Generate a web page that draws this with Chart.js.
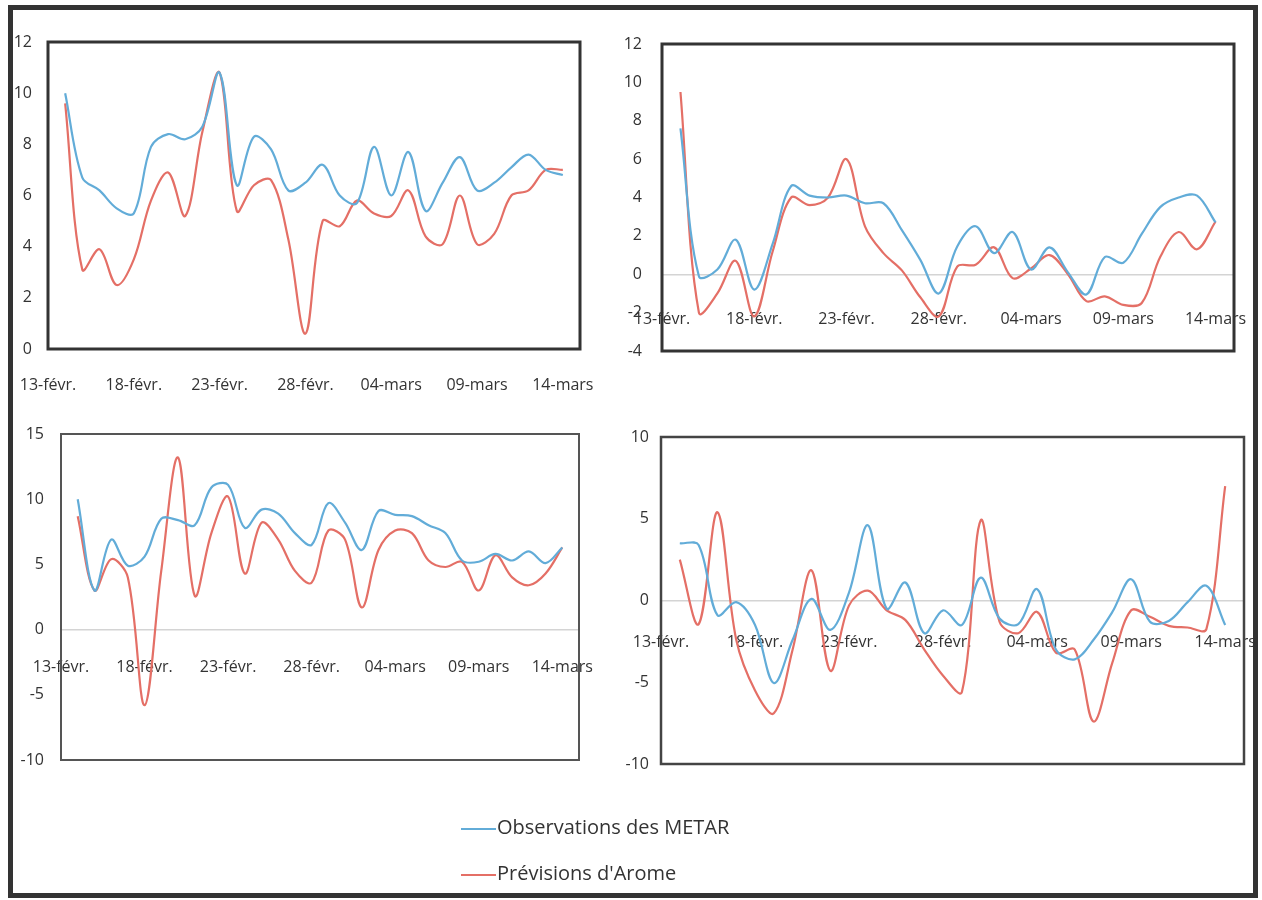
<!DOCTYPE html>
<html>
<head>
<meta charset="utf-8">
<script src="https://cdn.jsdelivr.net/npm/chart.js@4.4.1/dist/chart.umd.min.js"></script>
<style>
  body { margin: 0; background: #fff; width: 1262px; height: 900px; position: relative; overflow: hidden; }
  .frame { position: absolute; left: 8px; top: 5px; width: 1240px; height: 883px; border: 5px solid #333; }
  .box { position: absolute; }
  .leg { position: absolute; left: 461px; height: 26px; line-height: 26px; font-family: 'Open Sans', sans-serif; font-size: 20px; color: #333; white-space: nowrap; }
  .leg span { display: inline-block; width: 35px; height: 2px; vertical-align: middle; margin-right: 1px; }
</style>
</head>
<body>
<div class="frame"></div>
<div class="box" style="left:0px;top:22px;width:610px;height:387px"><canvas id="c1"></canvas></div>
<div class="box" style="left:614px;top:24px;width:648px;height:387px"><canvas id="c2"></canvas></div>
<div class="box" style="left:13px;top:414px;width:596px;height:406px"><canvas id="c3"></canvas></div>
<div class="box" style="left:613px;top:417px;width:649px;height:407px"><canvas id="c4"></canvas></div>
<div class="leg" style="top:814px"><span style="background:#62acd8"></span>Observations des METAR</div>
<div class="leg" style="top:860px"><span style="background:#e46f66"></span>Prévisions d'Arome</div>

<script>
// dates du 13-févr. au 14-mars (année bissextile), une valeur par jour à partir du 14-févr.
const dates = ['13-févr.', '14-févr.', '15-févr.', '16-févr.', '17-févr.', '18-févr.', '19-févr.', '20-févr.',
  '21-févr.', '22-févr.', '23-févr.', '24-févr.', '25-févr.', '26-févr.', '27-févr.', '28-févr.', '29-févr.',
  '01-mars', '02-mars', '03-mars', '04-mars', '05-mars', '06-mars', '07-mars', '08-mars', '09-mars',
  '10-mars', '11-mars', '12-mars', '13-mars', '14-mars'];

const obs1 = [10, 6.7, 6.2, 5.5, 5.3, 7.9, 8.4, 8.2, 8.7, 10.8, 6.4, 8.3, 7.8, 6.2, 6.5, 7.2, 6.0, 5.7, 7.9, 6.0, 7.7, 5.4, 6.5, 7.5, 6.2, 6.5, 7.1, 7.6, 7.0, 6.8];
const arome1 = [9.6, 3.1, 3.9, 2.5, 3.5, 5.8, 6.9, 5.2, 8.5, 10.8, 5.4, 6.4, 6.6, 4.3, 0.6, 5.0, 4.8, 5.8, 5.3, 5.2, 6.2, 4.4, 4.1, 6.0, 4.1, 4.5, 6.0, 6.2, 7.0, 7.0];

const obs2 = [7.6, -0.1, 0.25, 1.8, -0.8, 1.6, 4.6, 4.1, 4.0, 4.1, 3.7, 3.7, 2.3, 0.75, -1.0, 1.45, 2.5, 1.1, 2.2, 0.25, 1.4, 0.1, -1.05, 0.9, 0.6, 2.1, 3.5, 4.0, 4.1, 2.7];
const arome2 = [9.5, -2.0, -1.0, 0.7, -2.2, 1.2, 4.0, 3.6, 4.0, 6.0, 2.5, 1.1, 0.2, -1.2, -2.2, 0.4, 0.5, 1.4, -0.2, 0.3, 1.0, 0.0, -1.4, -1.15, -1.6, -1.5, 0.9, 2.2, 1.3, 2.75];

const obs3 = [10.0, 3.0, 6.9, 4.9, 5.6, 8.5, 8.4, 8.0, 10.9, 11.1, 7.8, 9.2, 8.9, 7.4, 6.5, 9.7, 8.2, 6.1, 9.1, 8.8, 8.7, 8.0, 7.4, 5.3, 5.2, 5.8, 5.3, 6.0, 5.1, 6.3];
const arome3 = [8.7, 3.0, 5.4, 4.0, -5.8, 4.5, 13.2, 2.6, 7.4, 10.2, 4.3, 8.2, 6.9, 4.5, 3.6, 7.6, 6.9, 1.7, 6.1, 7.6, 7.4, 5.3, 4.8, 5.2, 3.0, 5.7, 4.0, 3.4, 4.3, 6.3];

const obs4 = [3.5, 3.4, -0.9, -0.1, -1.5, -5.05, -2.4, 0.1, -1.8, 0.5, 4.6, -0.5, 1.1, -2.0, -0.6, -1.5, 1.4, -1.1, -1.45, 0.7, -3.0, -3.6, -2.4, -0.7, 1.3, -1.3, -1.25, -0.1, 0.9, -1.5];
const arome4 = [2.5, -1.45, 5.4, -2.4, -5.5, -6.9, -3.0, 1.85, -4.3, -0.3, 0.6, -0.6, -1.2, -3.0, -4.6, -5.6, 4.9, -1.3, -2.0, -0.7, -3.2, -3.0, -7.4, -3.8, -0.6, -1.0, -1.55, -1.65, -1.75, 7.0];

const blue = '#62acd8';
const red = '#e46f66';
const tickFont = { family: "'Open Sans', sans-serif", size: 16 };

// cadre noir autour de la zone de tracé (comme Excel)
const boxBorder = {
  id: 'boxBorder',
  afterDatasetsDraw(chart, args, opts) {
    const { ctx, chartArea: a } = chart;
    ctx.save();
    ctx.strokeStyle = opts.color;
    ctx.lineWidth = opts.width;
    ctx.strokeRect(a.left, a.top, a.right - a.left, a.bottom - a.top);
    ctx.restore();
  }
};

function serie(values) {
  return values.map((v, i) => ({ x: i + 1, y: v }));
}

function makeChart(id, obs, arome, yMin, yMax, yStep, yGap, xGap, right, border) {
  return new Chart(document.getElementById(id), {
    type: 'line',
    data: {
      datasets: [
        { label: 'Observations des METAR', data: serie(obs), borderColor: blue, borderWidth: 2.2, pointRadius: 0, tension: 0.35 },
        { label: "Prévisions d'Arome", data: serie(arome), borderColor: red, borderWidth: 2.2, pointRadius: 0, tension: 0.35 }
      ]
    },
    options: {
      responsive: true,
      maintainAspectRatio: false,
      animation: false,
      layout: { padding: { left: 0, top: 20, right: right, bottom: 60 } },
      plugins: {
        legend: { display: false },
        tooltip: { enabled: false },
        boxBorder: border
      },
      scales: {
        x: {
          type: 'linear',
          min: 0,
          max: 31,
          position: { y: 0 },
          grid: { display: false, drawTicks: true, tickLength: xGap },
          border: { display: true, color: '#d4d4d4', width: 1.5 },
          afterFit(scale) { scale.height = 0; },
          afterBuildTicks(scale) { scale.ticks = [0, 5, 10, 15, 20, 25, 30].map(v => ({ value: v })); },
          ticks: { padding: 0, maxRotation: 0, autoSkip: false, color: '#333', font: tickFont, callback: v => dates[v] }
        },
        y: {
          min: yMin,
          max: yMax,
          grid: { display: false, drawTicks: true, tickLength: yGap },
          border: { display: false },
          afterFit(scale) { scale.width = 48; },
          ticks: { stepSize: yStep, padding: 0, color: '#333', font: tickFont }
        }
      }
    },
    plugins: [boxBorder]
  });
}

makeChart('c1', obs1, arome1, 0, 12, 2, 16, 27, 30, { color: '#333', width: 3 });
makeChart('c2', obs2, arome2, -4, 12, 2, 20, 36, 28, { color: '#333', width: 3 });
makeChart('c3', obs3, arome3, -10, 15, 5, 17, 28, 30, { color: '#555', width: 2 });
makeChart('c4', obs4, arome4, -10, 10, 5, 12, 32, 18, { color: '#444', width: 2.5 });
</script>
</body>
</html>
